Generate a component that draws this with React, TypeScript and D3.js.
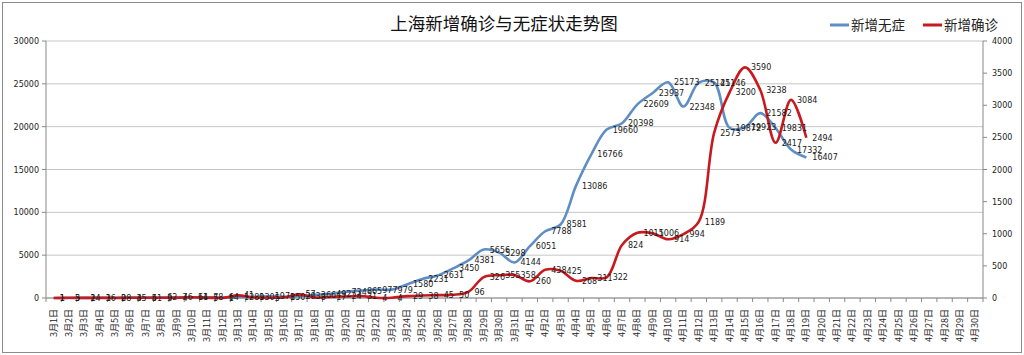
import React from "react";
import * as d3 from "d3";

const title = "上海新增确诊与无症状走势图";
const seriesNames = ["新增无症", "新增确诊"];
const categories: string[] = [
  ...Array.from({ length: 31 }, (_, i) => `3月${i + 1}日`),
  ...Array.from({ length: 30 }, (_, i) => `4月${i + 1}日`),
];
const asymptomatic = [
  1, 5, 14, 16, 28, 45, 51, 62, 76, 64, 78, 64, 128, 130, 197, 150, 203, 366, 492, 734,
  865, 977, 979, 1580, 2231, 2631, 3450, 4381, 5656, 5298, 4144, 6051, 7788, 8581, 13086,
  16766, 19660, 20398, 22609, 23937, 25173, 22348, 25141, 25146, 19872, 19923, 21582,
  19831, 17332, 16407,
];
const confirmed = [
  1, 3, 2, 3, 0, 3, 4, 3, 4, 11, 5, 1, 41, 9, 5, 8, 57, 8, 17, 24, 31, 4, 4, 29, 38, 45,
  50, 96, 326, 355, 358, 260, 438, 425, 268, 311, 322, 824, 1015, 1006, 914, 994, 1189,
  2573, 3200, 3590, 3238, 2417, 3084, 2494,
];
const leftTicks = [0, 5000, 10000, 15000, 20000, 25000, 30000];
const rightTicks = [0, 500, 1000, 1500, 2000, 2500, 3000, 3500, 4000];

const W = 1024;
const H = 355;
const plot = { left: 46, right: 983, top: 41, bottom: 298 };
const BLUE = "#5e8ec4";
const RED = "#c81a1e";
const NUM_FONT = "'DejaVu Sans', Verdana, sans-serif";
const CJK_FONT = "'Noto Sans CJK SC', sans-serif";

export default function App() {
  const x = d3.scaleBand<string>().domain(categories).range([plot.left, plot.right]).padding(0);
  const yL = d3.scaleLinear().domain([0, 30000]).range([plot.bottom, plot.top]);
  const yR = d3.scaleLinear().domain([0, 4000]).range([plot.bottom, plot.top]);
  const cx = (i: number) => (x(categories[i]) as number) + x.bandwidth() / 2;

  const line = (vals: number[], y: d3.ScaleLinear<number, number>) =>
    d3
      .line<number>()
      .x((_, i) => cx(i))
      .y((d) => y(d))
      .curve(d3.curveCatmullRom.alpha(0.5))(vals) as string;

  const lastEdge = (x(categories[categories.length - 1]) as number) + x.bandwidth();

  return (
    <svg width={W} height={H} style={{ position: "absolute", left: 0, top: 0, background: "#fff" }}>
      <rect x={2.5} y={2.5} width={W - 5} height={H - 5} fill="#fff" stroke="#8c8c8c" strokeWidth={1} />
      <text x={504} y={30} textAnchor="middle" fontFamily={CJK_FONT} fontSize={17.5} fontWeight={400} fill="#111">
        {title}
      </text>
      {/* legend */}
      <line x1={830} x2={849} y1={25} y2={25} stroke={BLUE} strokeWidth={3} />
      <text x={851} y={30} fontFamily={CJK_FONT} fontSize={13.5} fill="#222">{seriesNames[0]}</text>
      <line x1={923} x2={942} y1={25} y2={25} stroke={RED} strokeWidth={3} />
      <text x={944} y={30} fontFamily={CJK_FONT} fontSize={13.5} fill="#222">{seriesNames[1]}</text>

      {/* gridlines */}
      {leftTicks.map((t) => (
        <line key={"g" + t} x1={plot.left} x2={plot.right} y1={yL(t)} y2={yL(t)} stroke="#c6c6c6" strokeWidth={1} />
      ))}
      {/* left axis */}
      <line x1={plot.left} x2={plot.left} y1={plot.top} y2={plot.bottom} stroke="#888" />
      {leftTicks.map((t) => (
        <g key={"l" + t}>
          <line x1={plot.left - 4} x2={plot.left} y1={yL(t)} y2={yL(t)} stroke="#888" />
          <text x={plot.left - 7} y={yL(t) + 3} textAnchor="end" fontFamily={NUM_FONT} fontSize={8} fill="#222">
            {t}
          </text>
        </g>
      ))}
      {/* right axis */}
      <line x1={plot.right} x2={plot.right} y1={plot.top} y2={plot.bottom} stroke="#888" />
      {rightTicks.map((t) => (
        <g key={"r" + t}>
          <line x1={plot.right} x2={plot.right + 4} y1={yR(t)} y2={yR(t)} stroke="#888" />
          <text x={plot.right + 9} y={yR(t) + 3} textAnchor="start" fontFamily={NUM_FONT} fontSize={8} fill="#222">
            {t}
          </text>
        </g>
      ))}
      {/* bottom axis */}
      <line x1={plot.left} x2={plot.right} y1={plot.bottom} y2={plot.bottom} stroke="#888" />
      {categories.map((c, i) => (
        <g key={c}>
          <line x1={x(c) as number} x2={x(c) as number} y1={plot.bottom} y2={plot.bottom + 4} stroke="#888" />
          <text
            transform={`translate(${cx(i) + 3},${plot.bottom + 11}) rotate(-90)`}
            textAnchor="end"
            fontFamily={CJK_FONT}
            fontSize={9}
            fill="#222"
          >
            {c}
          </text>
        </g>
      ))}
      <line x1={lastEdge} x2={lastEdge} y1={plot.bottom} y2={plot.bottom + 4} stroke="#888" />

      {/* lines */}
      <path d={line(asymptomatic, yL)} fill="none" stroke={BLUE} strokeWidth={2.6} />
      <path d={line(confirmed, yR)} fill="none" stroke={RED} strokeWidth={2.6} />

      {/* data labels */}
      {asymptomatic.map((v, i) => (
        <text key={"al" + i} x={cx(i) + 6} y={yL(v) + 3} fontFamily={NUM_FONT} fontSize={8} fill="#1a1a1a">
          {v}
        </text>
      ))}
      {confirmed.map((v, i) => (
        <text key={"cl" + i} x={cx(i) + 6} y={yR(v) + 3} fontFamily={NUM_FONT} fontSize={8} fill="#1a1a1a">
          {v}
        </text>
      ))}
    </svg>
  );
}
